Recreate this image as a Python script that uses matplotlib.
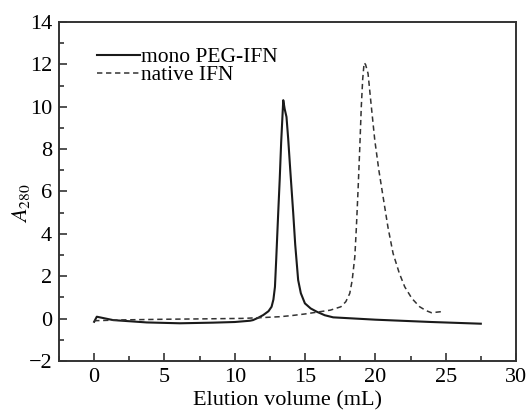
import matplotlib
matplotlib.use("Agg")
import matplotlib.pyplot as plt
from matplotlib.ticker import MultipleLocator

plt.rcParams['font.family'] = ['Liberation Serif', 'DejaVu Serif']
plt.rcParams['mathtext.fontset'] = 'stix'

# mono PEG-IFN (solid)
peg_x = [0.0, 0.19, 1.35, 3.74, 6.1, 8.45, 10.0, 11.08, 11.3, 11.7, 12.03, 12.4, 12.62, 12.75, 12.86, 12.95,
         13.09, 13.2, 13.3, 13.45, 13.55, 13.68, 13.8, 13.95, 14.16, 14.3, 14.51, 14.7, 14.99, 15.4, 15.82,
         16.4, 17.0, 20.0, 24.0, 27.5]
peg_y = [-0.15, 0.09, -0.07, -0.18, -0.22, -0.19, -0.16, -0.1, -0.07, 0.05, 0.17, 0.35, 0.56, 0.9, 1.5, 2.8,
         4.97, 6.6, 8.3, 10.31, 9.9, 9.52, 8.5, 7.0, 4.97, 3.5, 1.82, 1.2, 0.72, 0.48, 0.33,
         0.16, 0.06, -0.05, -0.16, -0.24]

# native IFN (dashed)
nat_x = [0.0, 2.0, 5.0, 8.0, 10.5, 12.0, 13.2, 14.0, 15.0, 15.8, 16.8, 17.55, 17.9, 18.18, 18.35, 18.54,
         18.65, 18.77, 18.9, 19.0, 19.1, 19.2, 19.3, 19.48, 19.7, 19.96, 20.25, 20.55, 20.9, 21.26, 21.7,
         22.09, 22.6, 23.15, 23.6, 23.98, 24.3, 24.7]
nat_y = [-0.1, -0.06, -0.03, -0.01, 0.01, 0.05, 0.09, 0.14, 0.22, 0.3, 0.4, 0.56, 0.8, 1.19, 1.8, 2.92,
         4.3, 6.07, 8.2, 10.0, 11.3, 12.07, 12.0, 11.57, 10.1, 8.42, 7.0, 5.75, 4.3, 3.08, 2.15,
         1.5, 0.95, 0.56, 0.38, 0.28, 0.3, 0.33]

labels = ['mono PEG-IFN', 'native IFN']

fig = plt.figure(figsize=(5.28, 4.12), dpi=100)
ax = fig.add_axes([0.1117, 0.1238, 0.8655, 0.8228])

ax.plot(peg_x, peg_y, color='#1a1a1a', lw=1.5, ls='-', label=labels[0])
ax.plot(nat_x, nat_y, color='#333333', lw=1.1, ls=(0, (3.5, 2.4)), label=labels[1])

ax.set_xlim(-2.5, 30)
ax.set_ylim(-2, 14)
ax.xaxis.set_major_locator(MultipleLocator(5))
ax.xaxis.set_minor_locator(MultipleLocator(2.5))
ax.yaxis.set_major_locator(MultipleLocator(2))
ax.yaxis.set_minor_locator(MultipleLocator(1))
ax.tick_params(which='both', direction='in', top=False, right=False, color='#333333', width=1.2)
ax.tick_params(which='major', length=6, labelsize=16, pad=5)
ax.tick_params(which='minor', length=3.5)
for s in ax.spines.values():
    s.set_linewidth(1.4)
    s.set_color('#333333')

ax.set_xlabel('Elution volume (mL)', fontsize=16, labelpad=3)
ax.set_ylabel('$A_{280}$', fontsize=16)
ax.yaxis.set_label_coords(-0.06, 0.466)

leg = ax.legend(loc='upper left', bbox_to_anchor=(0.083, 0.925), frameon=False, fontsize=15.5,
                handlelength=2.0, handletextpad=0.05, labelspacing=-0.1, borderpad=0, borderaxespad=0)

fig.savefig('out.png', dpi=100)
